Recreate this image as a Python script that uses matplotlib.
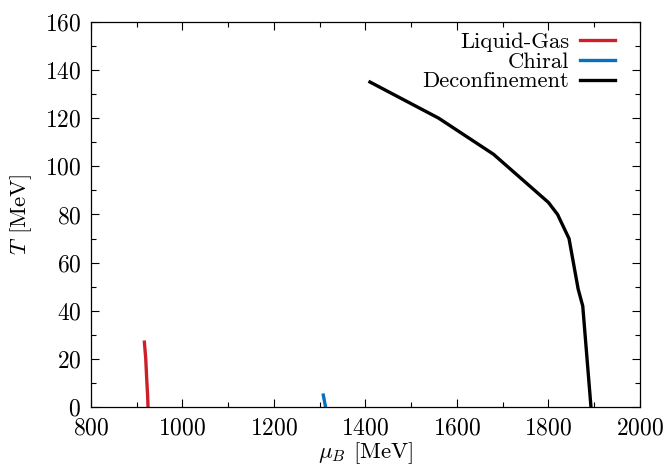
import matplotlib
matplotlib.use("Agg")
import matplotlib.pyplot as plt
from matplotlib.ticker import MultipleLocator

plt.rcParams['font.family'] = 'serif'
plt.rcParams['font.serif'] = ['cmr10', 'DejaVu Serif']
plt.rcParams['mathtext.fontset'] = 'cm'
plt.rcParams['axes.formatter.use_mathtext'] = True

# liquid-gas transition line
lg_mu = [917, 920, 922, 924, 925]
lg_T = [27, 20, 12, 5, 0]

# chiral transition line
ch_mu = [1308, 1310, 1313]
ch_T = [5, 3, 0]

# deconfinement line
dc_mu = [1410, 1560, 1680, 1800, 1820, 1845, 1865, 1875, 1893]
dc_T = [135, 120, 105, 85, 80, 70, 49, 42, 0]

fig = plt.figure(figsize=(6.68, 4.74), dpi=100)
ax = fig.add_subplot(111)
fig.subplots_adjust(left=0.136, right=0.958, top=0.954, bottom=0.141)

ax.plot(lg_mu, lg_T, '-', color="#cc1f2a", linewidth=2.4, label="Liquid-Gas")
ax.plot(ch_mu, ch_T, '-', color="#0a70bd", linewidth=2.4, label="Chiral")
ax.plot(dc_mu, dc_T, '-', color="black", linewidth=2.4, label="Deconfinement")

ax.set_xlim([800, 2000])
ax.set_ylim([0, 160])
ax.xaxis.set_major_locator(MultipleLocator(200))
ax.xaxis.set_minor_locator(MultipleLocator(100))
ax.yaxis.set_major_locator(MultipleLocator(20))
ax.yaxis.set_minor_locator(MultipleLocator(10))
ax.tick_params(which='both', direction='in', top=True, right=True, labelsize=17, width=0.8)
ax.tick_params(which='major', length=6, pad=7)
ax.tick_params(which='minor', length=3.5)
for s in ax.spines.values():
    s.set_linewidth(0.9)

ax.set_xlabel(r"$\mu_B$ [MeV]", fontsize=16.5, labelpad=1)
ax.set_ylabel(r"$T$ [MeV]", fontsize=16.5, labelpad=8)

# markerfirst=False puts the line after the text and right-aligns the rows
ax.legend(loc='upper right', frameon=False, markerfirst=False, fontsize=16.3,
          handlelength=1.55, handletextpad=0.5, labelspacing=0.0,
          borderaxespad=0.15, bbox_to_anchor=(0.978, 1.006))

fig.savefig("out.png", dpi=100)
